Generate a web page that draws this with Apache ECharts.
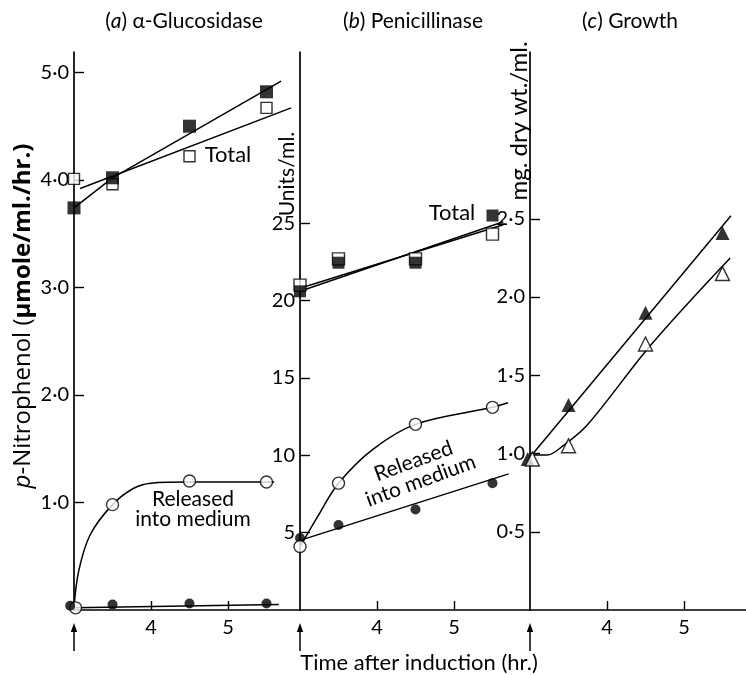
<!DOCTYPE html>
<html><head><meta charset="utf-8">
<script src="https://cdn.jsdelivr.net/npm/echarts@6/dist/echarts.min.js"></script>
<style>html,body{margin:0;padding:0;background:#fff}#c{width:746px;height:675px}</style>
</head><body><div id="c"></div>
<script>
// ---------- data ----------
const times = [3, 3.5, 4.5, 5.5];

// (a) alpha-Glucosidase, p-Nitrophenol (umole/ml./hr.)
const aTotalFilled = [3.74, 4.02, 4.50, 4.82];
const aTotalOpen   = [4.01, 3.96, 4.22, 4.67];
const aTotalFilledFit = [[3, 3.74], [3.5, 4.02], [5.69, 4.92]];
const aTotalOpenFit   = [[3.08, 3.92], [5.82, 4.67]];
const aRelOpenX   = [3.02, 3.5, 4.5, 5.5];
const aRelOpen    = [0.02, 0.98, 1.20, 1.19];
const aRelFilledX = [2.95, 3.5, 4.5, 5.5];
const aRelFilled  = [0.04, 0.05, 0.06, 0.06];
const aRelOpenFit   = [[3, 0.02], [3.06, 0.36], [3.21, 0.70], [3.5, 0.98], [3.77, 1.13], [4.0, 1.18], [4.5, 1.19], [5.6, 1.19]];
const aRelFilledFit = [[3, 0.02], [5.66, 0.05]];

// (b) Penicillinase, Units/ml.
const bTotalFilled = [20.6, 22.45, 22.45, 25.5];
const bTotalOpen   = [21.0, 22.7, 22.7, 24.3];
const bTotalFilledFit = [[3, 20.6], [5.64, 25.1]];
const bTotalOpenFit   = [[3, 20.8], [5.64, 24.9]];
const bRelOpen   = [4.1, 8.2, 12.0, 13.1];
const bRelFilled = [4.65, 5.5, 6.5, 8.2];
const bRelOpenFit   = [[3, 4.1], [3.26, 6.3], [3.5, 8.2], [3.95, 10.4], [4.5, 12.0], [5.5, 13.1], [5.7, 13.4]];
const bRelFilledFit = [[3, 4.5], [5.71, 8.8]];

// (c) Growth, mg. dry wt./ml.
const cFilledX = [2.97, 3.5, 4.5, 5.5];
const cFilled  = [0.965, 1.31, 1.90, 2.41];
const cOpenX   = [3.03, 3.5, 4.5, 5.5];
const cOpen    = [0.965, 1.05, 1.70, 2.15];
const cFilledFit = [[3.04, 1.0], [5.61, 2.52]];
const cOpenFit   = [[3.04, 0.99], [3.22, 0.99], [3.43, 1.05], [3.74, 1.18], [4.58, 1.70], [5.6, 2.25]];

// ticks
const xTicks = [4, 5];
const xLabelVals = [3, 4, 5];
const aYTicks = [1, 2, 3, 4, 5];
const bYTicks = [5, 10, 15, 20, 25];
const cYTicks = [0.5, 1, 1.5, 2, 2.5];

// ---------- chart ----------
const FONT = 'Lato';
const pts = (xs, ys) => xs.map((x, i) => [x, ys[i]]);
const dotFmt = v => Number(v).toFixed(1).replace('.', '\u00b7');

const grids = [
  {left: 74, top: 52, width: 226, height: 558},
  {left: 300, top: 52, width: 230, height: 558},
  {left: 530, top: 52, width: 216, height: 558}
].map(g => Object.assign({outerBoundsMode: 'none', containLabel: false}, g));
const xMax = [3 + 226 / 77, 3 + 230 / 77, 3 + 216 / 77];
const yMax = [5.19, 36.07, 3.566];
const yTickSets = [aYTicks, bYTicks, cYTicks];
const yFmts = [dotFmt, v => String(v), dotFmt];

const axisLine = {show: true, lineStyle: {color: '#000', width: 1.7}};
const xAxis = grids.map((g, i) => ({
  gridIndex: i, type: 'value', min: 3, max: xMax[i],
  axisLine: axisLine,
  axisTick: {show: true, inside: true, length: 9, customValues: xTicks, lineStyle: {color: '#000', width: 1.4}},
  axisLabel: {show: true, customValues: xLabelVals, color: '#000', fontSize: 20, fontFamily: FONT, margin: 8,
    formatter: v => (v === 3 ? '' : String(v))},
  splitLine: {show: false}
}));
const yAxis = grids.map((g, i) => ({
  gridIndex: i, type: 'value', min: 0, max: yMax[i],
  axisLine: axisLine,
  axisTick: {show: true, inside: true, length: 10, customValues: yTickSets[i], lineStyle: {color: '#000', width: 1.4}},
  axisLabel: {show: true, customValues: yTickSets[i], color: '#000', fontSize: 20, fontFamily: FONT, margin: 5,
    formatter: yFmts[i]},
  splitLine: {show: false}
}));

const lineS = (g, data, smooth) => ({
  type: 'line', xAxisIndex: g, yAxisIndex: g, data: data, symbol: 'none', showSymbol: false,
  smooth: smooth ? 0.35 : false, lineStyle: {color: '#000', width: 1.5}, z: 2, silent: true, clip: false
});
const filledS = (g, data, sym, size) => ({
  type: 'scatter', xAxisIndex: g, yAxisIndex: g, data: data, symbol: sym, symbolSize: size,
  itemStyle: {color: '#000'}, z: 4, clip: false, silent: true
});
const openS = (g, data, sym, size) => ({
  type: 'scatter', xAxisIndex: g, yAxisIndex: g, data: data, symbol: sym, symbolSize: size,
  itemStyle: {color: '#fff', borderColor: '#000', borderWidth: 1.4}, z: 4, clip: false, silent: true
});

const series = [
  // (a)
  lineS(0, aTotalFilledFit), lineS(0, aTotalOpenFit),
  lineS(0, aRelOpenFit, true), lineS(0, aRelFilledFit),
  openS(0, pts(times, aTotalOpen), 'rect', 11),
  filledS(0, pts(times, aTotalFilled), 'rect', 13),
  openS(0, pts(aRelOpenX, aRelOpen), 'circle', 12),
  filledS(0, pts(aRelFilledX, aRelFilled), 'circle', 10),
  // (b)
  lineS(1, bTotalFilledFit), lineS(1, bTotalOpenFit),
  lineS(1, bRelOpenFit, true), lineS(1, bRelFilledFit),
  openS(1, pts(times, bTotalOpen), 'rect', 12),
  filledS(1, pts(times, bTotalFilled), 'rect', 12),
  filledS(1, pts(times, bRelFilled), 'circle', 10),
  openS(1, pts(times, bRelOpen), 'circle', 12),
  // (c)
  lineS(2, cFilledFit), lineS(2, cOpenFit, true),
  filledS(2, pts(cFilledX, cFilled), 'triangle', 14),
  openS(2, pts(cOpenX, cOpen), 'triangle', 14)
];

const txt = (x, y, text, size, extra) => {
  const fam = (extra && extra.font) || FONT;
  const el = {
    type: 'text', x: x, y: y, silent: true,
    style: Object.assign({text: text, fill: '#000', fontFamily: fam, fontSize: size, align: 'center', verticalAlign: 'middle',
      rich: {
        n: {fontFamily: fam, fontSize: size},
        i: {fontStyle: 'italic', fontFamily: fam, fontSize: size},
        b: {fontWeight: 'bold', fontFamily: fam, fontSize: size}
      }}, (extra && extra.style) || {})
  };
  if (extra && extra.rotation !== undefined) el.rotation = extra.rotation;
  return el;
};

const texts = [
  txt(184, 21, '{n|(}{i|a}{n|) \u03b1-Glucosidase}', 21),
  txt(413, 21, '{n|(}{i|b}{n|) Penicillinase}', 21),
  txt(630, 21, '{n|(}{i|c}{n|) Growth}', 21),
  txt(23, 316, '{i|p}{n|-Nitrophenol (}{b|\u03bcmole/ml./hr.)}', 24, {rotation: Math.PI / 2, font: 'Open Sans'}),
  txt(287, 174, 'Units/ml.', 21, {rotation: Math.PI / 2}),
  txt(519, 121, 'mg. dry wt./ml.', 24, {rotation: Math.PI / 2}),
  txt(419, 663, 'Time after induction (hr.)', 22),
  txt(228, 155, 'Total', 22),
  txt(452, 213, 'Total', 22),
  txt(193, 509, 'Released\ninto medium', 21, {style: {lineHeight: 20}}),
  txt(417, 471, 'Released\ninto medium', 21, {rotation: 0.35, style: {lineHeight: 21}})
];

const chart = echarts.init(document.getElementById('c'), null, {renderer: 'canvas'});
chart.setOption({
  backgroundColor: '#fff', animation: false,
  grid: grids, xAxis: xAxis, yAxis: yAxis, series: series,
  graphic: texts
});

// induction arrows below x = 3 on each panel
const arrows = [];
for (let i = 0; i < 3; i++) {
  const p = chart.convertToPixel({gridIndex: i}, [3, 0]);
  arrows.push({type: 'line', silent: true, shape: {x1: p[0], y1: p[1] + 16, x2: p[0], y2: p[1] + 41},
    style: {stroke: '#000', lineWidth: 1.5}});
  arrows.push({type: 'polygon', silent: true,
    shape: {points: [[p[0] - 3.2, p[1] + 22], [p[0], p[1] + 13], [p[0] + 3.2, p[1] + 22]]},
    style: {fill: '#000'}});
}
chart.setOption({graphic: texts.concat(arrows)});
</script></body></html>
